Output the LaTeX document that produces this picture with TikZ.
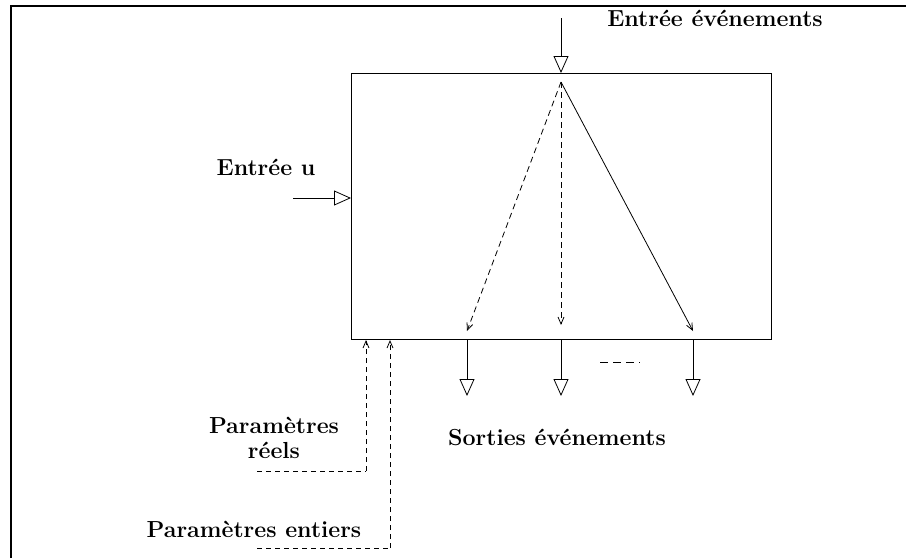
\documentclass[tikz,border=0pt]{standalone}
\usetikzlibrary{arrows.meta}
\begin{document}
\begin{tikzpicture}[x=1pt,y=-1pt,
  thin line/.style={line width=0.8pt},
  open tip/.style={thin line,-{Triangle[open,length=17pt,width=15pt]}},
  small tip/.style={thin line,-{Straight Barb[length=7pt,width=6pt]}},
  dash line/.style={thin line,dash pattern=on 5pt off 4pt},
  label/.style={font=\fontsize{23.2}{27}\selectfont\bfseries,inner sep=0pt,anchor=base}]
\useasboundingbox (0,0) rectangle (906,558);
% frame
\draw[line width=2pt] (11,558) -- (11,6) -- (906,6);
% block
\node[draw,thin line,anchor=north west,minimum width=420pt,minimum height=266pt,inner sep=0pt,outer sep=0pt] (blk) at (351,73) {};
% labels
\node[label] (lev) at (715,26) {Entrée événements};
\node[label] (lu) at (266,175) {Entrée u};
\node[label] (lpr) at (274,433) {Paramètres};
\node[label] (lpr2) at (274,458) {réels};
\node[label] (lpe) at (254,537) {Paramètres entiers};
\node[label] (lso) at (557,445) {Sorties événements};
% event input
\coordinate (evin) at (561,18);
\draw[open tip] (evin) -- (blk.north);
% regular input
\coordinate (uin) at (293,198);
\draw[open tip] (uin) -- (uin -| blk.west);
% internal event routing
\coordinate (src) at (561,82);
\coordinate (t1) at (467,331);
\coordinate (t2) at (561,325);
\coordinate (t3) at (693,331);
\draw[small tip,dash pattern=on 6pt off 4pt] (src) -- (t1);
\draw[small tip,dash pattern=on 6pt off 4pt] (src) -- (t2);
\draw[small tip] (src) -- (t3);
% event outputs
\coordinate (o1) at (467,396);
\coordinate (o2) at (561,396);
\coordinate (o3) at (693,396);
\draw[open tip] (o1 |- blk.south) -- (o1);
\draw[open tip] (o2 |- blk.south) -- (o2);
\draw[open tip] (o3 |- blk.south) -- (o3);
\coordinate (d1) at (600,362);
\coordinate (d2) at (640,362);
\draw[thin line,dash pattern=on 8pt off 5pt] (d1) -- (d2);
% parameters
\coordinate (pr) at (257,471);
\coordinate (pe) at (257,548);
\coordinate (prt) at (366,340);
\coordinate (pet) at (390,340);
\draw[dash line] (pr) -- (pr -| prt);
\draw[dash line,small tip] (pr -| prt) -- (prt);
\draw[dash line] (pe) -- (pe -| pet);
\draw[dash line,small tip] (pe -| pet) -- (pet);
\end{tikzpicture}
\end{document}
